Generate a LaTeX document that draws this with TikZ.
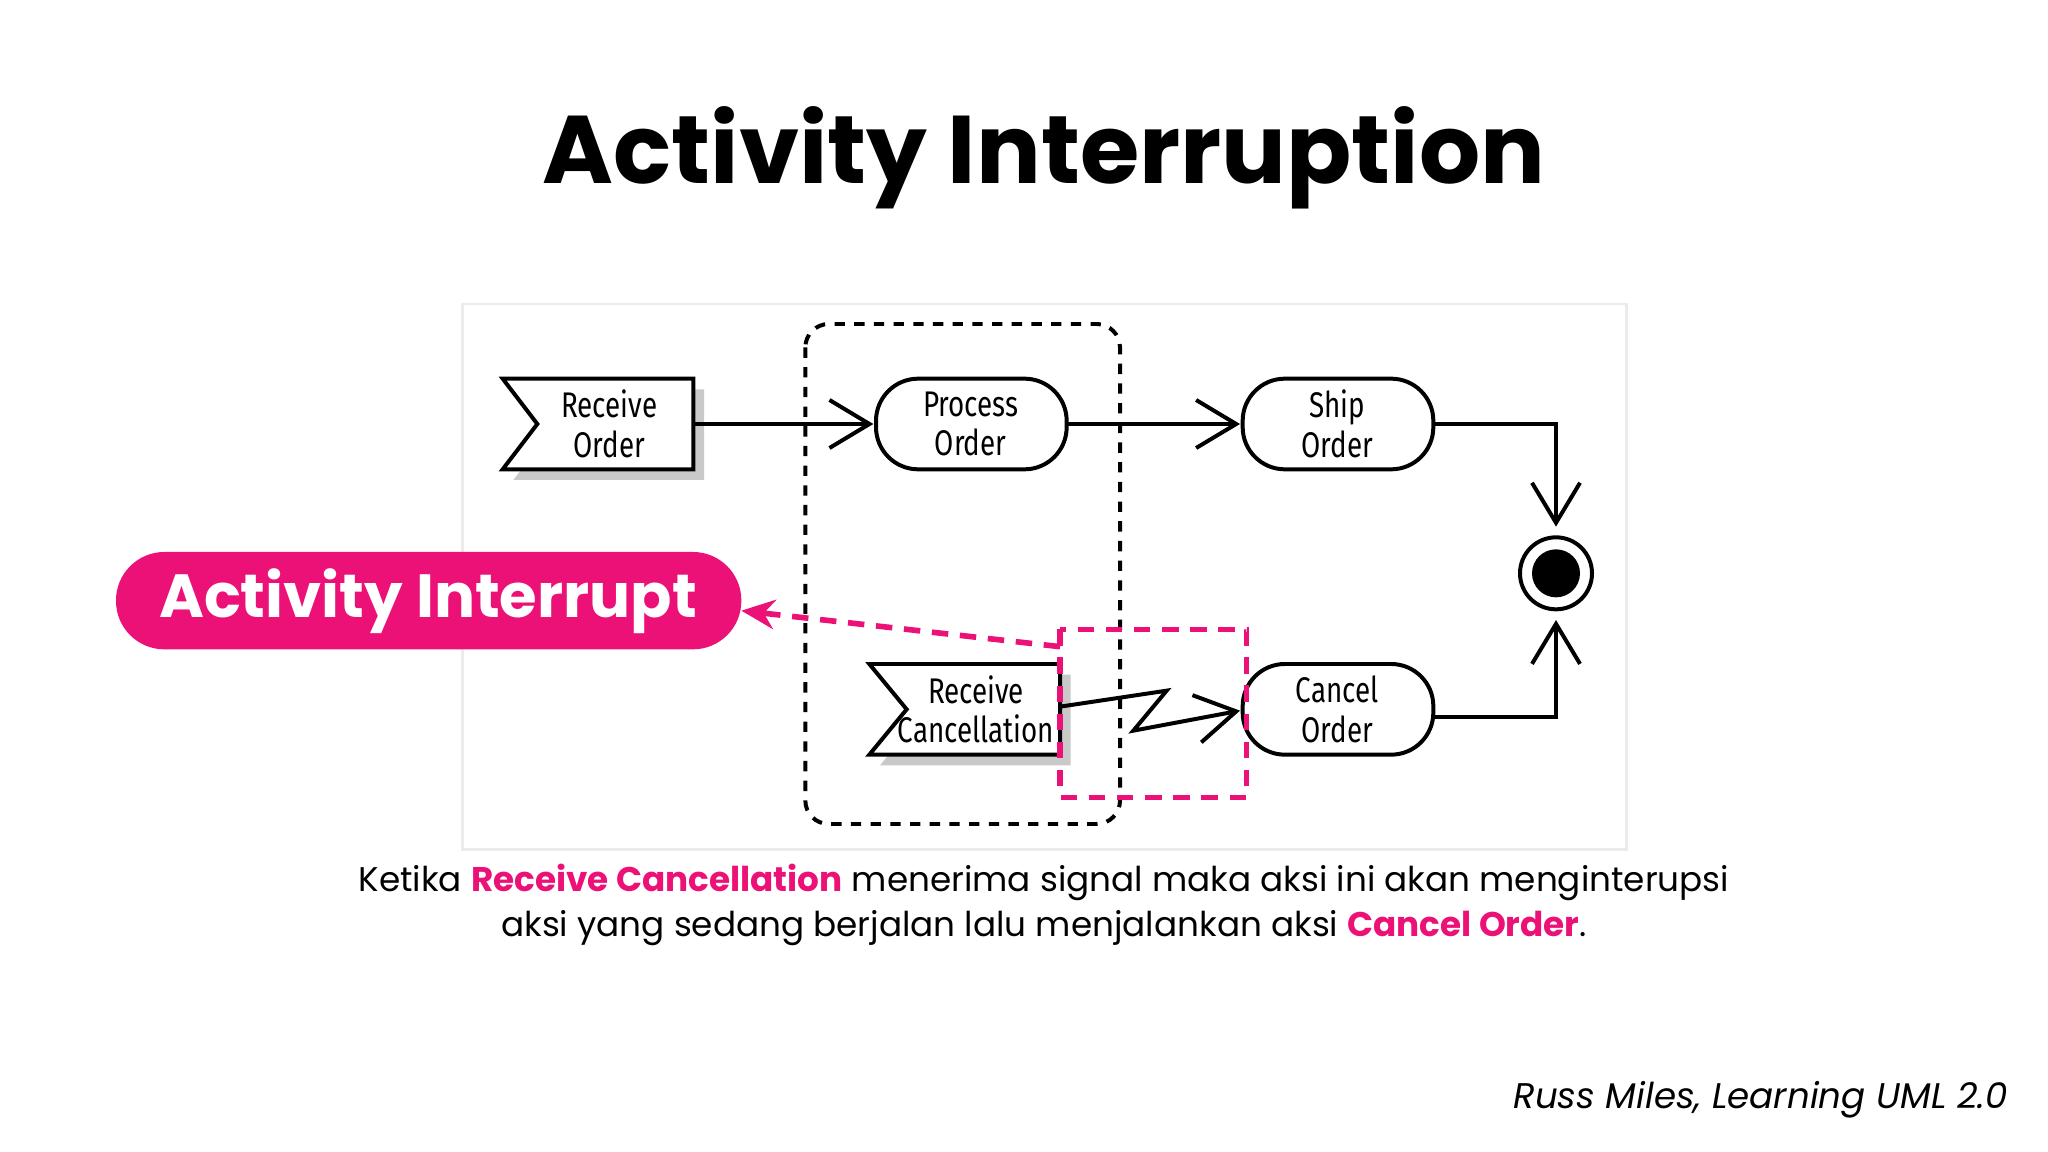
\documentclass[tikz,border=0pt]{standalone}
\usepackage{fontspec}
\setmainfont{Poppins}
\newfontfamily\diag[FakeStretch=0.78]{Fira Sans}
\usetikzlibrary{arrows.meta,calc}
\definecolor{pk}{HTML}{EC1177}
\begin{document}
\begin{tikzpicture}[x=0.01cm,y=-0.01cm,
  ln/.style={line width=0.85pt,black},
  arr/.style={ln,-{Straight Barb[length=3mm,width=3.6mm,line width=0.85pt]}},
  lbl/.style={font=\diag\fontsize{7.6}{8.4}\selectfont,align=center,inner sep=0pt},
  pkd/.style={pk,line width=1.2pt,dash pattern=on 3.5pt off 2.5pt},
  shadow/.style={fill=black!35,draw=none,opacity=0.6}]
\useasboundingbox (0,0) rectangle (1536,864);
\fill[white] (0,0) rectangle (1536,864);
\node[font=\fontsize{20.5}{24}\selectfont\bfseries] (title) at (783,118) {Activity Interruption};
\draw[black!8,line width=0.6pt] (347,228) rectangle (1220,637);
% interruptible region
\draw[ln,dash pattern=on 2.2pt off 2pt,rounded corners=5pt] (604,243) rectangle (840,618);
% Receive Order signal
\fill[shadow] (385,292)--(528,292)--(528,360)--(385,360)--(411,326)--cycle;
\draw[ln,fill=white] (377,284)--(520,284)--(520,352)--(377,352)--(403,318)--cycle;
\node[lbl] (ro) at (457,318) {Receive\\Order};
\coordinate (roe) at (520,318);
% actions
\draw[ln,fill=white,rounded corners=9pt] (657,284) rectangle (800,352);
\node[lbl] (po) at (728,318) {Process\\Order};
\draw[ln,fill=white,rounded corners=9pt] (932,284) rectangle (1075,352);
\node[lbl] (so) at (1003,318) {Ship\\Order};
% Receive cancellation
\fill[shadow] (660,506)--(803,506)--(803,574)--(660,574)--(688,540)--cycle;
\draw[ln,fill=white] (652,498)--(795,498)--(795,566)--(652,566)--(680,532)--cycle;
\node[lbl] (rc) at (732,532) {Receive\\Cancellation};
\draw[ln,fill=white,rounded corners=9pt] (932,498) rectangle (1075,566);
\node[lbl] (co) at (1003,532) {Cancel\\Order};
% final
\draw[ln,fill=white] (1167,430) circle (27);
\fill (1167,430) circle (18);
\coordinate (fin) at (1167,430);
% arrows
\draw[arr] (roe) -- (655,318);
\draw[arr] (800,318) -- (930,318);
\draw[arr] (1075,318) -| (1167,395);
\draw[arr] (1075,538) -| (1167,465);
\draw[arr] (795,530) -- (875,518) -- (850,548) -- (930,533);
% pink
\draw[pkd] (795,472) rectangle (935,598);
\fill[pk,rounded corners=10.3pt] (87,414) rectangle (556,487);
\node[text=white,font=\fontsize{13}{15}\selectfont\bfseries] (ait) at (321,451) {Activity Interrupt};
\coordinate (pa) at (556,458);
\draw[pkd,-{Stealth[length=2.5mm,width=2.2mm]}] (795,485) -- (pa);
% caption
\node[font=\fontsize{7.3}{9.6}\selectfont,align=center] (cap) at (783,679)
 {Ketika {\color{pk}\bfseries Receive Cancellation} menerima signal maka aksi ini akan menginterupsi\\
 aksi yang sedang berjalan lalu menjalankan aksi {\color{pk}\bfseries Cancel Order}.};
\node[font=\fontsize{7.6}{10}\selectfont\itshape,anchor=east] (cite) at (1518,825) {Russ Miles, Learning UML 2.0};
\end{tikzpicture}
\end{document}
